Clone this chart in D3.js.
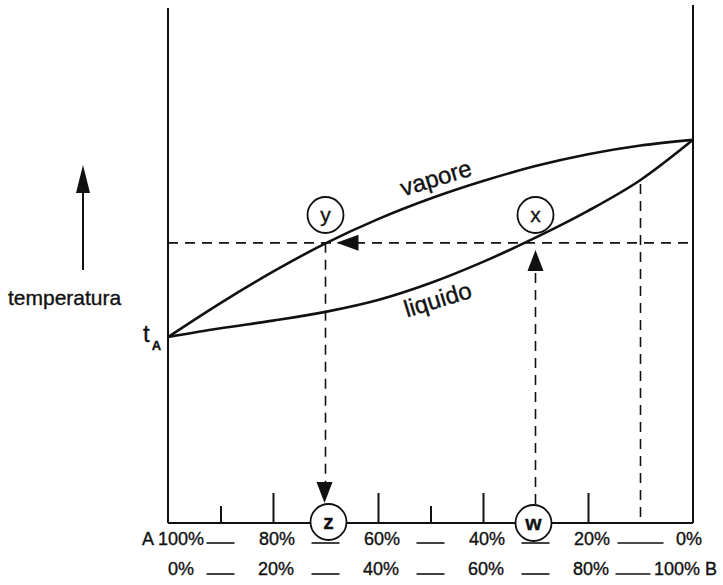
<!DOCTYPE html>
<html>
<head>
<meta charset="utf-8">
<script src="https://cdn.jsdelivr.net/npm/d3@7/dist/d3.min.js"></script>
<style>
  html, body { margin: 0; padding: 0; background: #fff; }
  svg { display: block; font-family: "Liberation Sans", Arial, Helvetica, sans-serif; }
  text { stroke: #111; stroke-width: 0.35px; }
</style>
</head>
<body>
<svg id="chart" width="723" height="585"></svg>
<script>
// ---- data ----
const compB = [0, 10, 20, 30, 40, 50, 60, 70, 80, 90, 100];          // % of B
const vaporeT = [36.1, 42.7, 48.8, 54.3, 59.0, 63.0, 66.4, 69.3, 71.6, 73.3, 74.4];
const liquidoT = [36.1, 37.8, 39.3, 41.0, 43.3, 46.6, 50.7, 55.4, 60.6, 66.6, 74.4];
const tieT = 54.4;            // temperature of the horizontal dashed line
const compY = 30;             // vapour composition (point y -> z)
const compX = 70;             // liquid composition (point w -> x)
const compExtra = 90;         // extra dashed vertical
const majorTicks = [20, 40, 60, 80];
const minorTicks = [10, 50];
const labelComps = [0, 20, 40, 60, 80, 100];
const topLabels = ["A 100%", "80%", "60%", "40%", "20%", "0%"];
const bottomLabels = ["0%", "20%", "40%", "60%", "80%", "100% B"];
const dashComps = [10, 30, 50, 70, 90];
const yLabel = "temperatura";
const curveNames = ["vapore", "liquido"];

// ---- scales ----
const svg = d3.select("#chart");
const x = d3.scaleLinear().domain([0, 100]).range([168, 693]);
const y = d3.scaleLinear().domain([0, 100]).range([523, 8]);
const ink = "#111";

// frame
svg.append("line").attr("x1", x(0)).attr("x2", x(0)).attr("y1", 8).attr("y2", y(0))
  .attr("stroke", ink).attr("stroke-width", 2);
svg.append("line").attr("x1", x(100)).attr("x2", x(100)).attr("y1", 5).attr("y2", y(0))
  .attr("stroke", ink).attr("stroke-width", 2);

// bottom axis with upward ticks
const gMajor = svg.append("g").attr("transform", `translate(0,${y(0)})`)
  .call(d3.axisTop(x).tickValues(majorTicks).tickSize(30).tickFormat(""));
gMajor.select(".domain").attr("stroke", ink).attr("stroke-width", 2)
  .attr("d", `M${x(0)},0H${x(100)}`);
gMajor.selectAll(".tick line").attr("stroke", ink).attr("stroke-width", 2);
const gMinor = svg.append("g").attr("transform", `translate(0,${y(0)})`)
  .call(d3.axisTop(x).tickValues(minorTicks).tickSize(17).tickFormat(""));
gMinor.select(".domain").remove();
gMinor.selectAll(".tick line").attr("stroke", ink).attr("stroke-width", 2);

// dashed guide lines
const dash = "10,7";
svg.append("line").attr("x1", x(0)).attr("x2", x(100)).attr("y1", y(tieT)).attr("y2", y(tieT))
  .attr("stroke", ink).attr("stroke-width", 1.6).attr("stroke-dasharray", dash);
svg.append("line").attr("x1", x(compY)).attr("x2", x(compY)).attr("y1", y(tieT)).attr("y2", 484)
  .attr("stroke", ink).attr("stroke-width", 1.6).attr("stroke-dasharray", dash);
svg.append("line").attr("x1", x(compX)).attr("x2", x(compX)).attr("y1", 504).attr("y2", 268)
  .attr("stroke", ink).attr("stroke-width", 1.6).attr("stroke-dasharray", dash);
const liqAtExtra = liquidoT[compB.indexOf(compExtra)];
svg.append("line").attr("x1", x(compExtra)).attr("x2", x(compExtra)).attr("y1", y(liqAtExtra) + 4).attr("y2", y(0))
  .attr("stroke", ink).attr("stroke-width", 1.6).attr("stroke-dasharray", dash);

// arrowheads
function tri(points) {
  svg.append("path").attr("d", "M" + points.map(p => p.join(",")).join("L") + "Z").attr("fill", ink);
}
const ty = y(tieT);
tri([[x(compY) + 11, ty], [x(compY) + 33, ty - 8], [x(compY) + 33, ty + 8]]);   // left-pointing
tri([[x(compY) - 1, 503], [x(compY) - 9, 482], [x(compY) + 7, 482]]);           // down to z
tri([[x(compX), 250], [x(compX) - 8, 271], [x(compX) + 8, 271]]);               // up to x

// curves
const line = d3.line().x((d, i) => x(compB[i])).y(d => y(d)).curve(d3.curveMonotoneX);
svg.append("path").attr("d", line(vaporeT)).attr("fill", "none").attr("stroke", ink).attr("stroke-width", 2.6);
svg.append("path").attr("d", line(liquidoT)).attr("fill", "none").attr("stroke", ink).attr("stroke-width", 2.6);

// curve labels
svg.append("text").attr("transform", `translate(${x(44.8)},${y(63.4)}) rotate(-17)`)
  .attr("font-size", 24).attr("fill", ink).text(curveNames[0]);
svg.append("text").attr("transform", `translate(${x(45.5)},${y(39.9)}) rotate(-17)`)
  .attr("font-size", 24).attr("fill", ink).text(curveNames[1]);

// temperature arrow + label
svg.append("line").attr("x1", 83).attr("x2", 83).attr("y1", 270).attr("y2", 185)
  .attr("stroke", ink).attr("stroke-width", 2);
tri([[83, 165], [76, 193], [90, 193]]);
svg.append("text").attr("x", 8).attr("y", 305).attr("font-size", 21).attr("fill", ink).text(yLabel);

// t_A
const tAt = svg.append("text").attr("x", 143).attr("y", y(vaporeT[0]) + 5).attr("font-size", 24).attr("fill", ink);
tAt.append("tspan").text("t");
tAt.append("tspan").attr("dx", 2).attr("dy", 8).attr("font-size", 13).attr("font-weight", "bold").text("A");

// bottom label dashes
const dashY = [543, 574];
dashY.forEach((yy, row) => {
  svg.selectAll(null).data(dashComps).enter().append("line")
    .attr("x1", d => d === 90 ? x(d) - (row === 0 ? 23 : 25) : x(d) - 14)
    .attr("x2", d => d === 90 ? x(d) + (row === 0 ? 23 : 10) : x(d) + 14)
    .attr("y1", yy).attr("y2", yy).attr("stroke", ink).attr("stroke-width", 1.6);
});

// circles with letters
function marker(cx, cy, letter, bold) {
  svg.append("circle").attr("cx", cx).attr("cy", cy).attr("r", 18)
    .attr("fill", "#fff").attr("stroke", ink).attr("stroke-width", 1.8);
  svg.append("text").attr("x", cx).attr("y", cy + 7).attr("text-anchor", "middle")
    .attr("font-size", 21).attr("font-weight", bold ? "bold" : "normal").attr("fill", ink).text(letter);
}
marker(x(compY), 215, "y", false);
marker(x(compX), 215, "x", false);
marker(x(compY) + 3, y(0) - 1, "z", true);
marker(x(compX) - 2, y(0), "w", true);

// bottom labels
svg.selectAll(null).data(labelComps).enter().append("text")
  .attr("x", (d, i) => i === 0 ? x(d) + 36 : (i === 5 ? x(d) - 4 : x(d) + 4))
  .attr("y", 545).attr("font-size", 18).attr("fill", ink)
  .attr("text-anchor", (d, i) => i === 0 ? "end" : "middle")
  .text((d, i) => topLabels[i]);
svg.selectAll(null).data(labelComps).enter().append("text")
  .attr("x", (d, i) => i === 0 ? x(d) + 13 : (i === 5 ? x(d) - 39 : x(d) + 3))
  .attr("y", 575).attr("font-size", 18).attr("fill", ink)
  .attr("text-anchor", (d, i) => i === 5 ? "start" : "middle")
  .text((d, i) => bottomLabels[i]);
</script>
</body>
</html>
